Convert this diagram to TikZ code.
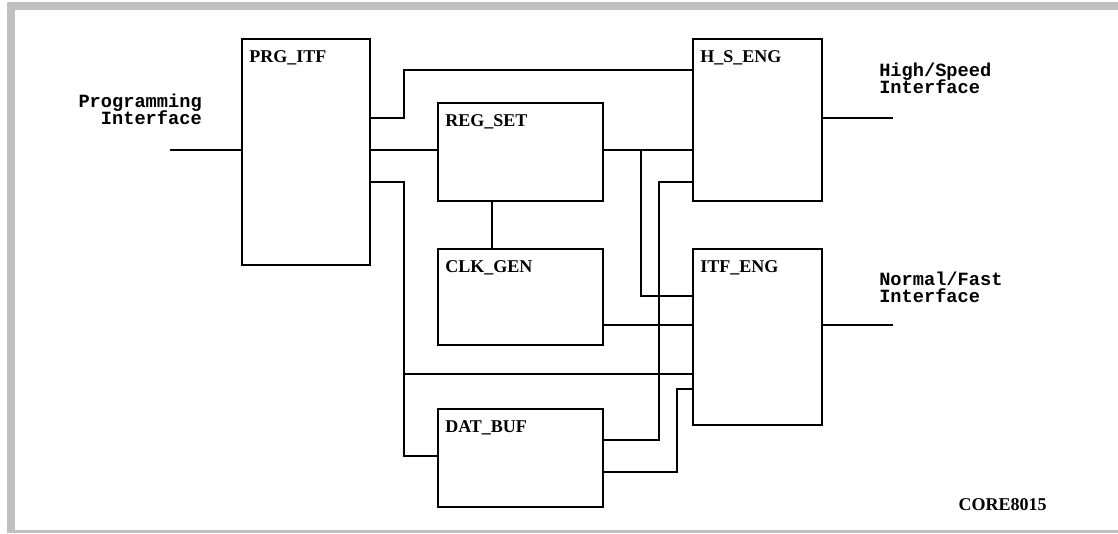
\documentclass[tikz,border=0pt]{standalone}
\usepackage{fontspec}
\setmainfont{Liberation Serif}
\newfontfamily\monofnt{Liberation Mono}
\usepackage{tikz}
\usetikzlibrary{positioning}
\definecolor{framegrey}{HTML}{C0C0C0}
\lineskiplimit=-10pt
\begin{document}
\begin{tikzpicture}[x=0.75pt,y=-0.75pt,
  blk/.style={draw,line width=1.5pt,inner sep=0pt,minimum width=123.75pt,minimum height=73.5pt},
  tag/.style={anchor=base west,inner sep=0pt,xshift=6pt,yshift=-18pt,font=\bfseries\fontsize{13.5}{15}\selectfont},
  iolbl/.style={inner sep=0pt,font=\monofnt\bfseries\fontsize{14}{12.75}\selectfont},
  wire/.style={line width=1.5pt}
]
\useasboundingbox (0,0) rectangle (1118,533);
\fill[framegrey] (7,2) rectangle (1118,10);
\fill[framegrey] (7,2) rectangle (15,533);
\fill[framegrey] (7,530) rectangle (1118,533);

\node[blk,minimum width=96pt,minimum height=169.5pt,anchor=north west,label={[tag]north west:PRG\_ITF}] (prg) at (241,38) {};
\node[blk,anchor=north west,label={[tag]north west:REG\_SET}] (reg) at (437,102) {};
\node[blk,below=34.5pt of reg,minimum height=72pt,label={[tag]north west:CLK\_GEN}] (clk) {};
\node[blk,below=46.5pt of clk,label={[tag]north west:DAT\_BUF}] (dat) {};
\node[blk,minimum width=96.75pt,minimum height=121.5pt,anchor=north west,label={[tag]north west:H\_S\_ENG}] (hs) at (692,38) {};
\node[blk,below=34.5pt of hs,minimum width=96.75pt,minimum height=132pt,label={[tag]north west:ITF\_ENG}] (itf) {};

\coordinate (prgin) at ([xshift=-53.25pt,yshift=-84pt]prg.north west);
\coordinate (hsout) at ([xshift=52.5pt,yshift=-60pt]hs.north east);
\coordinate (itfout) at ([xshift=52.5pt,yshift=-57.75pt]itf.north east);
\coordinate (itfin) at ([yshift=-94.5pt]itf.north west);

\node[iolbl,align=right,anchor=base east] (prgtxt) at ([xshift=24pt,yshift=19.5pt]prgin) {Programming\\Interface};
\node[iolbl,align=left,anchor=south west] (hstxt) at ([xshift=-10.5pt,yshift=18pt]hsout) {High/Speed\\Interface};
\node[iolbl,align=left,anchor=south west] (itftxt) at ([xshift=-10.5pt,yshift=16.5pt]itfout) {Normal/Fast\\Interface};
\node[anchor=base east,inner sep=0pt,font=\bfseries\fontsize{13.5}{15}\selectfont] (figid) at (1047,510) {CORE8015};

\draw[wire] (prgin) -- ([yshift=-84pt]prg.north west);
\draw[wire] ([yshift=-60pt]prg.north east) -- ++(24.75pt,0) |- ([yshift=-24pt]hs.north west);
\draw[wire] ([yshift=-84pt]prg.north east) -- ([yshift=-36pt]reg.north west);
\draw[wire] ([yshift=-108pt]prg.north east) -- ++(24.75pt,0) coordinate (prgbus) |- ([yshift=-36pt]dat.north west);
\draw[wire] (prgbus |- itfin) -- (itfin);
\draw[wire] ([xshift=41.25pt]reg.south west) -- ([xshift=41.25pt]clk.north west);
\draw[wire] ([yshift=-36pt]reg.north east) -- ++(27.75pt,0) coordinate (regbus) -- ([yshift=-84pt]hs.north west);
\draw[wire] (regbus) |- ([yshift=-36pt]itf.north west);
\draw[wire] ([yshift=-57.75pt]clk.north east) -- ([yshift=-57.75pt]itf.north west);
\draw[wire] ([yshift=-24pt]dat.north east) -- ++(41.25pt,0) |- ([yshift=-108pt]hs.north west);
\draw[wire] ([yshift=-48pt]dat.north east) -- ++(54.75pt,0) |- ([yshift=-105.75pt]itf.north west);
\draw[wire] ([yshift=-60pt]hs.north east) -- (hsout);
\draw[wire] ([yshift=-57.75pt]itf.north east) -- (itfout);
\end{tikzpicture}
\end{document}
